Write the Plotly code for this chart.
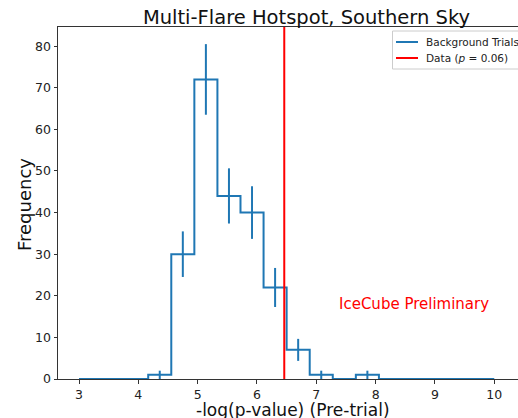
import numpy as np
import plotly.graph_objects as go

# Data
bin_edges = list(np.linspace(3, 10, 19))
counts = [0, 0, 0, 1, 30, 72, 44, 40, 22, 7, 1, 0, 1, 0, 0, 0, 0, 0]
data_value = 6.46
x_ticks = [3, 4, 5, 6, 7, 8, 9, 10]
y_ticks = [0, 10, 20, 30, 40, 50, 60, 70, 80]
legend_labels = ["Background Trials", "Data (<i>p</i> = 0.06)"]

blue = "#1f77b4"
font = "DejaVu Sans"
ymax = 84.6

L, R, T, B = 58, 0, 27, 39
W, H = 518, 418
PW, PH = W - L - R, H - T - B


def px(xp):
    return (xp - L) / PW


def py(yp):
    return (H - B - yp) / PH


centers = [(bin_edges[i] + bin_edges[i + 1]) / 2 for i in range(len(counts))]
errs = [np.sqrt(c) for c in counts]

fig = go.Figure()
fig.add_trace(go.Scatter(
    x=bin_edges, y=counts + [0], mode="lines", line=dict(shape="hv", color=blue, width=2),
    name=legend_labels[0], showlegend=False))
fig.add_trace(go.Scatter(
    x=centers, y=counts, mode="markers", marker=dict(size=0.1, color=blue, opacity=0),
    error_y=dict(type="data", array=errs, visible=True, width=0, thickness=2, color=blue),
    showlegend=False, hoverinfo="skip"))
fig.add_trace(go.Scatter(
    x=[data_value, data_value], y=[0, ymax], mode="lines", line=dict(color="red", width=2),
    name=legend_labels[1], showlegend=False))

fig.add_annotation(x=8.65, y=18, text="IceCube Preliminary", showarrow=False,
                   font=dict(family=font, size=15, color="red"), xanchor="center", yanchor="middle")

fig.add_annotation(xref="paper", yref="paper", x=px(293), y=py(398.5), text="-log(p-value) (Pre-trial)",
                   showarrow=False, font=dict(family=font, size=17, color="#111"),
                   xanchor="center", yanchor="top", borderpad=0)
fig.add_annotation(xref="paper", yref="paper", x=px(25), y=py(205), text="Frequency", textangle=-90,
                   showarrow=False, font=dict(family=font, size=18, color="#111"),
                   xanchor="center", yanchor="middle")

# manual legend
fig.add_shape(type="rect", xref="paper", yref="paper", x0=px(392.5), x1=px(540), y0=py(69), y1=py(31),
              line=dict(color="#cccccc", width=1), fillcolor="rgba(255,255,255,0.85)", layer="above")
for i, (lab, col) in enumerate(zip(legend_labels, [blue, "red"])):
    yy = 42 + i * 16
    fig.add_shape(type="line", xref="paper", yref="paper", x0=px(396), x1=px(418), y0=py(yy), y1=py(yy),
                  line=dict(color=col, width=2), layer="above")
    fig.add_annotation(xref="paper", yref="paper", x=px(424), y=py(yy), text=lab, showarrow=False,
                       xanchor="left", yanchor="middle", font=dict(family=font, size=10.5, color="#222"))

fig.update_layout(
    width=W, height=H,
    margin=dict(l=L, r=R, t=T, b=B),
    paper_bgcolor="white", plot_bgcolor="white",
    showlegend=False,
    font=dict(family=font, size=12.5, color="#222"),
    title=dict(text="Multi-Flare Hotspot, Southern Sky", x=px(306.5), xref="paper", xanchor="center",
               y=1 - 17 / H, yref="container", yanchor="middle",
               font=dict(family=font, size=19.5, color="#111")),
    xaxis=dict(range=[2.646, 10.40], tickvals=x_ticks, showgrid=False, zeroline=False,
               showline=True, linecolor="#333", linewidth=1, mirror=True,
               ticks="outside", ticklen=3.5, tickcolor="#333", tickfont=dict(size=12.5)),
    yaxis=dict(range=[0, ymax], tickvals=y_ticks, showgrid=False, zeroline=False,
               showline=True, linecolor="#333", linewidth=1, mirror=True,
               ticks="outside", ticklen=3.5, tickcolor="#333", tickfont=dict(size=12.5)),
)

fig.write_html("out.html")
